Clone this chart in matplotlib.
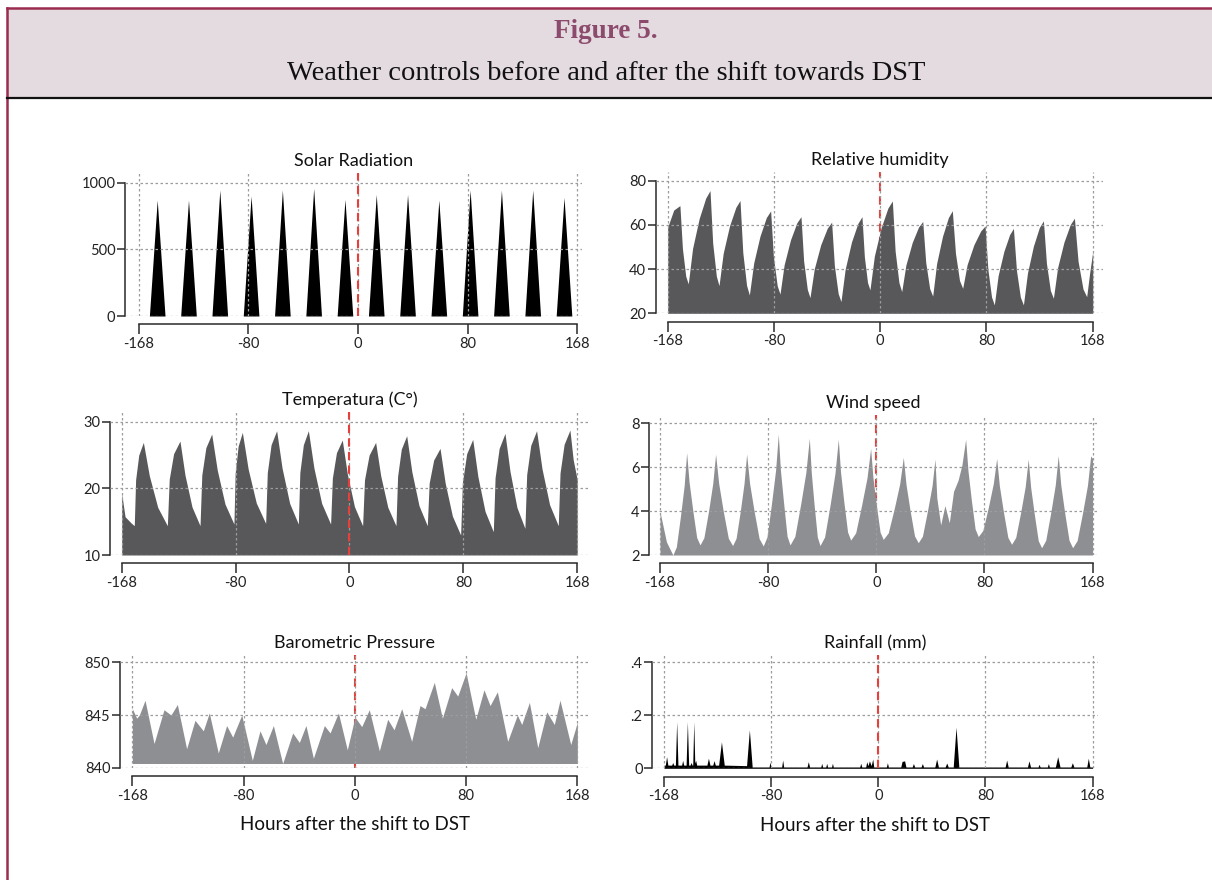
import matplotlib
matplotlib.use("Agg")
import matplotlib.pyplot as plt
from matplotlib.patches import Rectangle
from matplotlib.lines import Line2D

plt.rcParams['font.family'] = ['Lato', 'DejaVu Sans']

# --- Data (hours after shift, value) ---

x_ticks = [-168, -84, 0, 84, 168]
x_labels = ["-168", "-80", "0", "80", "168"]

solar_rise = [-160, -136, -112, -88, -64, -40, -16, 8, 32, 56, 80, 104, 128, 152]
solar_noon = [-154, -130, -106, -82, -58, -34, -10, 14, 38, 62, 86, 110, 134, 158]
solar_set = [-148, -124, -100, -76, -52, -28, -4, 20, 44, 68, 92, 116, 140, 164]
solar_peak = [870, 870, 945, 900, 945, 958, 875, 912, 912, 870, 945, 945, 945, 890]

humidity = [
    (-168.0, 58.9), (-163.2, 66.7), (-158.3, 68.7), (-156.3, 49.2), (-153.7, 36.8),
    (-151.7, 33.3), (-148.3, 49.3), (-143.1, 62.8), (-137.9, 72.1), (-134.5, 75.5),
    (-132.4, 51.8), (-129.5, 36.8), (-127.4, 32.5), (-124.1, 47.1), (-119.1, 59.5),
    (-114.1, 67.9), (-110.8, 71.0), (-108.6, 47.5), (-105.6, 32.6), (-103.4, 28.3),
    (-100.0, 42.7), (-95.0, 54.9), (-90.0, 63.3), (-86.6, 66.3), (-84.4, 45.6),
    (-81.4, 32.5), (-79.2, 28.7), (-75.9, 42.0), (-70.9, 53.2), (-65.9, 60.9),
    (-62.6, 63.7), (-60.5, 43.6), (-57.6, 30.8), (-55.5, 27.1), (-52.1, 40.1),
    (-47.0, 51.0), (-41.8, 58.5), (-38.4, 61.2), (-36.2, 41.5), (-33.2, 28.9),
    (-31.0, 25.3), (-27.7, 39.9), (-22.7, 52.2), (-17.7, 60.6), (-14.4, 63.7),
    (-12.5, 45.5), (-10.0, 33.9), (-8.1, 30.6), (-4.6, 45.9), (0.75, 58.7),
    (6.1, 67.6), (9.6, 70.8), (11.8, 48.2), (14.8, 33.9), (17.0, 29.8),
    (20.3, 41.8), (25.3, 52.0), (30.3, 59.0), (33.6, 61.5), (36.0, 43.0),
    (39.1, 31.2), (41.5, 27.8), (44.6, 42.5), (49.25, 54.8), (53.9, 63.3),
    (57.0, 66.4), (59.5, 47.1), (62.7, 34.8), (65.2, 31.3), (68.7, 42.0),
    (74.05, 51.0), (79.4, 57.2), (82.9, 59.5), (85.1, 39.9), (88.0, 27.4),
    (90.2, 23.8), (93.2, 37.0), (97.75, 48.0), (102.3, 55.6), (105.3, 58.4),
    (107.7, 39.4), (110.8, 27.3), (113.2, 23.8), (116.4, 38.2), (121.1, 50.4),
    (125.8, 58.8), (129.0, 61.8), (131.4, 42.6), (134.5, 30.3), (136.9, 26.8),
    (140.2, 40.6), (145.2, 52.1), (150.2, 60.1), (153.5, 63.0), (156.4, 43.5),
    (160.3, 31.0), (163.2, 27.5), (165.5, 38.0), (168.0, 47.9),
]

temperature = [
    (-168.0, 19.25), (-165.5, 15.75), (-161.0, 14.8), (-158.7, 14.4), (-157.7, 21.3),
    (-155.4, 25.0), (-152.0, 26.9), (-147.6, 21.9), (-141.4, 17.15), (-134.3, 14.4),
    (-132.9, 21.4), (-129.7, 25.2), (-125.0, 27.1), (-121.3, 22.0), (-116.1, 17.2),
    (-110.2, 14.4), (-108.9, 22.0), (-105.9, 26.1), (-101.6, 28.15), (-97.5, 22.75),
    (-91.8, 17.65), (-85.2, 14.65), (-84.3, 22.25), (-82.1, 26.35), (-79.0, 28.4),
    (-74.7, 22.9), (-68.7, 17.8), (-61.8, 14.75), (-60.6, 22.35), (-57.8, 26.55),
    (-53.7, 28.65), (-49.7, 23.05), (-44.1, 17.75), (-37.7, 14.65), (-36.6, 22.35),
    (-34.0, 26.55), (-30.3, 28.65), (-26.2, 23.05), (-20.5, 17.75), (-13.9, 14.65),
    (-12.6, 21.55), (-9.6, 25.35), (-5.3, 27.25), (-1.55, 22.15), (3.7, 17.25),
    (9.7, 14.4), (11.1, 21.3), (14.5, 25.0), (19.3, 26.9), (23.05, 21.9),
    (28.3, 17.15), (34.3, 14.4), (35.5, 21.8), (38.25, 25.9), (42.2, 27.9),
    (46.0, 22.5), (51.3, 17.4), (57.4, 14.4), (58.8, 20.8), (62.1, 24.25),
    (66.8, 26.0), (70.6, 20.8), (75.9, 15.85), (82.0, 13.0), (83.3, 20.9),
    (86.45, 25.2), (90.9, 27.35), (94.7, 21.8), (100.0, 16.55), (106.1, 13.5),
    (107.4, 21.6), (110.4, 26.0), (114.7, 28.25), (118.4, 22.55), (123.5, 17.15),
    (129.4, 14.0), (130.7, 22.05), (133.7, 26.45), (138.0, 28.65), (142.0, 22.95),
    (147.6, 17.55), (154.0, 14.4), (155.3, 22.3), (158.3, 26.6), (162.6, 28.75),
    (165.0, 24.3), (168.0, 21.25),
]

wind = [
    (-168.0, 3.97), (-163.0, 2.6), (-158.0, 2.0), (-155.3, 2.37), (-152.1, 3.77),
    (-149.2, 5.17), (-147.3, 6.66), (-145.4, 5.32), (-142.6, 4.06), (-139.5, 2.80),
    (-136.9, 2.46), (-133.9, 2.79), (-130.2, 4.03), (-127.0, 5.27), (-124.8, 6.59),
    (-122.4, 5.26), (-118.9, 4.01), (-114.9, 2.76), (-111.6, 2.43), (-108.9, 2.76),
    (-105.6, 4.01), (-102.7, 5.27), (-100.7, 6.60), (-98.4, 5.26), (-94.9, 4.00),
    (-91.0, 2.75), (-87.8, 2.41), (-84.9, 2.82), (-81.4, 4.34), (-78.2, 5.87),
    (-76.1, 7.50), (-74.5, 5.89), (-72.0, 4.38), (-69.3, 2.86), (-67.0, 2.46),
    (-63.25, 2.85), (-58.75, 4.31), (-54.7, 5.76), (-52.0, 7.32), (-50.5, 5.76),
    (-48.3, 4.29), (-45.8, 2.82), (-43.7, 2.43), (-40.15, 2.82), (-35.9, 4.27),
    (-32.1, 5.72), (-29.5, 7.27), (-27.8, 5.80), (-25.2, 4.42), (-22.3, 3.05),
    (-19.9, 2.68), (-16.0, 3.01), (-11.4, 4.27), (-7.2, 5.52), (-4.4, 6.86),
    (-2.6, 5.53), (0.0, 4.29), (2.95, 3.04), (5.4, 2.71), (9.3, 3.01),
    (14.0, 4.13), (18.2, 5.25), (21.0, 6.45), (23.1, 5.21), (26.2, 4.04),
    (29.7, 2.87), (32.6, 2.56), (35.85, 2.86), (39.75, 4.01), (43.3, 5.15),
    (45.6, 6.37), (47.0, 4.6), (50.0, 3.37), (53.3, 4.25), (56.7, 3.47),
    (60.0, 4.9), (63.5, 5.4), (66.5, 6.1), (69.4, 7.27), (71.2, 5.85),
    (73.8, 4.52), (76.75, 3.19), (79.2, 2.84), (82.8, 3.12), (87.1, 4.19),
    (90.9, 5.26), (93.5, 6.40), (95.6, 5.15), (98.7, 3.98), (102.2, 2.80),
    (105.1, 2.49), (108.3, 2.80), (112.2, 3.96), (115.7, 5.13), (118.0, 6.37),
    (119.9, 5.08), (122.7, 3.87), (125.8, 2.65), (128.4, 2.33), (131.6, 2.67),
    (135.5, 3.93), (139.0, 5.19), (141.3, 6.53), (143.3, 5.19), (146.3, 3.93),
    (149.7, 2.67), (152.5, 2.33), (156.0, 2.66), (160.2, 3.92), (164.0, 5.17),
    (166.5, 6.51), (168.0, 6.40),
]

pressure = [
    (-168.0, 845.6), (-164.7, 844.7), (-162.7, 845.0), (-158.4, 846.4), (-151.6, 842.3),
    (-144.1, 845.5), (-138.8, 845.0), (-134.0, 846.0), (-127.0, 841.8), (-120.7, 844.5),
    (-114.4, 843.5), (-109.9, 845.2), (-103.1, 841.4), (-96.8, 844.0), (-92.2, 842.9),
    (-85.4, 845.0), (-77.4, 840.7), (-71.6, 843.5), (-67.1, 842.2), (-61.5, 844.0),
    (-54.5, 840.4), (-46.9, 843.3), (-41.9, 842.4), (-36.9, 844.0), (-31.3, 840.9),
    (-23.0, 844.0), (-18.7, 843.3), (-12.4, 845.2), (-5.7, 841.7), (0.1, 844.8),
    (5.2, 843.9), (10.9, 845.5), (18.5, 841.6), (24.8, 844.6), (29.6, 843.6),
    (35.4, 845.6), (42.9, 842.5), (49.2, 845.9), (53.0, 845.6), (60.0, 848.1),
    (66.1, 844.7), (73.1, 847.6), (77.7, 846.8), (84.0, 849.0), (91.3, 844.6),
    (97.5, 847.4), (102.1, 845.9), (107.6, 847.2), (115.4, 842.5), (122.7, 845.0),
    (126.0, 844.1), (131.8, 846.2), (138.1, 841.9), (144.9, 845.3), (150.6, 844.1),
    (154.9, 846.4), (163.0, 842.2), (168.0, 844.3),
]

rainfall = [
    (-168.0, 0.012), (-167.0, 0.012), (-166.0, 0.044), (-165.0, 0.012),
    (-162.0, 0.012), (-161.2, 0.022), (-160.4, 0.012),
    (-159.1, 0.012), (-158.1, 0.176), (-157.1, 0.012),
    (-154.2, 0.012), (-153.4, 0.030), (-152.6, 0.012),
    (-150.7, 0.012), (-149.7, 0.176), (-148.7, 0.012),
    (-147.6, 0.012), (-146.8, 0.022), (-146.0, 0.012),
    (-145.5, 0.012), (-144.7, 0.176), (-143.9, 0.020), (-143.2, 0.030), (-142.4, 0.012),
    (-134.4, 0.012), (-133.2, 0.038), (-132.0, 0.012),
    (-129.8, 0.012), (-128.8, 0.029), (-127.8, 0.012),
    (-125.2, 0.012), (-123.0, 0.100), (-120.8, 0.012),
    (-103.3, 0.010), (-101.1, 0.145), (-98.9, 0.005),
    (-85.7, 0.005), (-84.9, 0.023), (-84.1, 0.005),
    (-75.8, 0.005), (-75.0, 0.031), (-74.2, 0.005),
    (-55.9, 0.005), (-54.9, 0.025), (-53.9, 0.005),
    (-45.1, 0.005), (-44.4, 0.019), (-43.7, 0.005),
    (-41.2, 0.005), (-40.5, 0.019), (-39.8, 0.005),
    (-36.7, 0.005), (-36.0, 0.019), (-35.3, 0.005),
    (-14.6, 0.005), (-13.8, 0.019), (-13.0, 0.005),
    (-9.9, 0.005), (-9.1, 0.025), (-8.1, 0.010), (-7.0, 0.028), (-5.6, 0.010),
    (-4.4, 0.035), (-3.6, 0.005),
    (6.3, 0.005), (7.1, 0.021), (7.9, 0.005),
    (17.6, 0.005), (18.6, 0.026), (20.6, 0.028), (21.6, 0.005),
    (26.5, 0.005), (27.5, 0.018), (28.5, 0.005),
    (33.5, 0.005), (34.5, 0.018), (35.5, 0.005),
    (44.3, 0.005), (45.7, 0.035), (47.1, 0.005),
    (52.4, 0.005), (53.6, 0.020), (54.8, 0.005),
    (58.7, 0.005), (60.9, 0.155), (63.1, 0.005),
    (99.4, 0.005), (100.6, 0.031), (101.8, 0.005),
    (116.9, 0.005), (118.1, 0.028), (119.3, 0.005),
    (125.2, 0.005), (126.0, 0.015), (126.8, 0.005),
    (132.5, 0.005), (133.3, 0.018), (134.1, 0.005),
    (138.8, 0.005), (140.6, 0.044), (142.4, 0.005),
    (150.9, 0.005), (152.1, 0.021), (153.3, 0.005),
    (163.4, 0.005), (164.6, 0.038), (165.8, 0.005),
    (168.0, 0.005),
]

# solar triangles: sunrise -> noon peak -> sunset
solar = [(-168, 0)]
for r, n, s, p in zip(solar_rise, solar_noon, solar_set, solar_peak):
    solar += [(r, 0), (n, p), (s, 0)]
solar.append((168, 0))

# --- Layout (pixels in a 1212 x 880 canvas) ---

W, H = 1212, 880
fig = plt.figure(figsize=(W / 100, H / 100), dpi=100)

def rect(left, top, right, bottom):
    return [left / W, 1 - bottom / H, (right - left) / W, (bottom - top) / H]

# header box
fig.patches.append(Rectangle((7 / W, 1 - 98 / H), 1, 89 / H, transform=fig.transFigure,
                             facecolor='#e4dbe0', edgecolor='none', zorder=0))
fig.lines.append(Line2D([6.5 / W, 1], [1 - 8.5 / H] * 2, transform=fig.transFigure,
                        color='#9b2c50', lw=1.8))
fig.lines.append(Line2D([6.5 / W] * 2, [0, 1 - 8 / H], transform=fig.transFigure,
                        color='#9b2c50', lw=1.8))
fig.lines.append(Line2D([7 / W, 1], [1 - 98.5 / H] * 2, transform=fig.transFigure,
                        color='#111111', lw=1.6))
fig.text(0.5, 1 - 31 / H, "Figure 5.", ha='center', va='center', fontsize=19.5,
         fontweight='bold', color='#8c4a6d', family=['Liberation Serif'])
fig.text(0.5, 1 - 74 / H, "Weather controls before and after the shift towards DST",
         ha='center', va='center', fontsize=20.5, color='#111111', family=['Liberation Serif'])

panels = [
    # title, data, colour, base, box, xlim, ylim, yticks, ylabels, xlabel, red line on top
    ("Solar Radiation", solar, '#000000', 0, (125, 173, 582, 316), (-178.7, 171.8),
     (0, 1073), [0, 500, 1000], ["0", "500", "1000"], False, True),
    ("Relative humidity", humidity, '#58585b', 20, (656, 172, 1103, 313.3), (-177.2, 176.1),
     (20, 83.9), [20, 40, 60, 80], ["20", "40", "60", "80"], False, False),
    ("Temperatura (C°)", temperature, '#58585b', 10, (110, 412, 590, 555), (-176.6, 177.4),
     (10, 31.46), [10, 20, 30], ["10", "20", "30"], False, True),
    ("Wind speed", wind, '#8e8f92', 2, (649.3, 415, 1098, 555), (-176.3, 172.2),
     (2, 8.38), [2, 4, 6, 8], ["2", "4", "6", "8"], False, False),
    ("Barometric Pressure", pressure, '#8e8f92', 840.4, (120, 655, 589, 767.7), (-177.3, 176.8),
     (840, 850.7), [840, 845, 850], ["840", "845", "850"], True, False),
    ("Rainfall (mm)", rainfall, '#000000', 0, (652.3, 655, 1098, 768.3), (-177.2, 172.2),
     (0, 0.4275), [0, 0.2, 0.4], ["0", ".2", ".4"], True, True),
]

for title, data, color, base, box, xlim, ylim, yticks, ylabels, xlabel, red_top in panels:
    ax = fig.add_axes(rect(*box))
    xs = [p[0] for p in data]
    ys = [p[1] for p in data]
    ax.fill_between(xs, ys, base, color=color, lw=0, zorder=1)
    ax.axvline(0, color='#e5413a', lw=1.5, ls=(0, (4, 2.5)), zorder=4 if red_top else 0.5)

    ax.set_xlim(*xlim)
    ax.set_ylim(*ylim)
    ax.set_xticks(x_ticks)
    ax.set_xticklabels(x_labels)
    ax.set_yticks(yticks)
    ax.set_yticklabels(ylabels)
    ax.set_axisbelow(False)
    ax.grid(True, color='#9c9c9c', lw=0.9, ls=(0, (2, 2)), zorder=2)

    for side in ('top', 'right'):
        ax.spines[side].set_visible(False)
    ax.spines['bottom'].set_position(('outward', 6))
    ax.spines['bottom'].set_bounds(-168, 168)
    ax.spines['left'].set_bounds(yticks[0], yticks[-1])
    for side in ('bottom', 'left'):
        ax.spines[side].set_color('#2a2a2a')
        ax.spines[side].set_linewidth(1.1)
    ax.tick_params(axis='x', direction='out', length=7, width=1.1, color='#2a2a2a',
                   labelsize=10.5, pad=2, labelcolor='#222222')
    ax.tick_params(axis='y', direction='out', length=6, width=1.1, color='#2a2a2a',
                   labelsize=10.5, pad=1, labelcolor='#222222')
    ax.set_title(title, fontsize=13, pad=5, color='#111111')
    if xlabel:
        ax.set_xlabel("Hours after the shift to DST", fontsize=13.5, labelpad=10,
                      color='#111111')

fig.savefig("out.png", dpi=100, facecolor='white')
